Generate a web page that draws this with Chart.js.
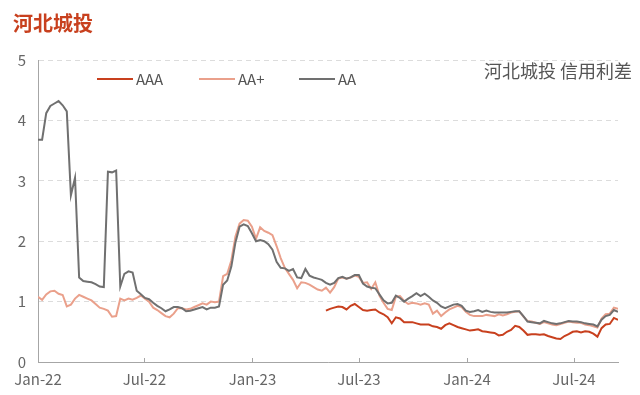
<!DOCTYPE html>
<html>
<head>
<meta charset="utf-8">
<script src="https://cdn.jsdelivr.net/npm/chart.js@4.4.1/dist/chart.umd.min.js"></script>
<style>
  html, body { margin: 0; padding: 0; background: #fff; }
  #wrap { width: 640px; height: 395px; }
</style>
</head>
<body>
<div id="wrap"><canvas id="myChart" width="640" height="395"></canvas></div>
<script>
// weekly observations, starting first week of Jan 2022
var weekCount = 142;
var tickDays = [0, 181, 365, 546, 730, 912];
var tickLabels = ["Jan-22", "Jul-22", "Jan-23", "Jul-23", "Jan-24", "Jul-24"];
var seriesNames = ["AAA", "AA+", "AA"];
var seriesColors = ["#c8401e", "#eaa08b", "#707070"];

var aaaValues = Array(70).fill(null).concat([
  0.85,0.88,0.90,0.92,0.91,0.87,0.93,0.96,0.91,0.86,
  0.85,0.86,0.87,0.82,0.79,0.74,0.64,0.74,0.72,0.66,
  0.66,0.66,0.64,0.62,0.62,0.62,0.59,0.58,0.55,0.61,
  0.64,0.61,0.58,0.56,0.54,0.52,0.53,0.54,0.51,0.50,
  0.49,0.48,0.44,0.45,0.50,0.53,0.60,0.58,0.52,0.45,
  0.46,0.46,0.45,0.46,0.43,0.41,0.39,0.38,0.43,0.46,
  0.50,0.51,0.49,0.51,0.50,0.47,0.42,0.56,0.62,0.63,0.73,0.70
]);

var aaPlusValues = [
  1.08,1.03,1.12,1.17,1.18,1.13,1.11,0.92,0.95,1.05,
  1.11,1.08,1.05,1.02,0.96,0.90,0.88,0.85,0.75,0.76,
  1.05,1.02,1.05,1.03,1.06,1.10,1.05,1.00,0.90,0.86,
  0.81,0.76,0.74,0.80,0.89,0.89,0.87,0.88,0.91,0.94,
  0.97,0.95,1.00,0.99,1.00,1.42,1.46,1.68,2.08,2.29,
  2.35,2.34,2.24,2.04,2.23,2.17,2.14,2.10,1.92,1.72,
  1.56,1.46,1.36,1.22,1.32,1.31,1.28,1.24,1.20,1.18,
  1.23,1.15,1.24,1.38,1.40,1.38,1.40,1.43,1.41,1.31,
  1.32,1.21,1.32,1.10,0.98,0.88,0.86,1.08,1.09,1.01,
  0.96,0.98,0.97,0.95,0.97,0.95,0.80,0.85,0.76,0.82,
  0.87,0.90,0.93,0.91,0.83,0.78,0.76,0.76,0.76,0.78,
  0.77,0.76,0.79,0.77,0.79,0.82,0.83,0.84,0.75,0.68,
  0.67,0.65,0.63,0.66,0.64,0.62,0.61,0.63,0.65,0.67,
  0.66,0.65,0.65,0.62,0.61,0.59,0.57,0.72,0.79,0.80,
  0.90,0.88
];

var aaValues = [
  3.68,3.68,4.12,4.24,4.28,4.32,4.25,4.15,2.76,3.05,
  1.40,1.34,1.33,1.32,1.29,1.25,1.24,3.15,3.14,3.17,
  1.25,1.46,1.50,1.48,1.18,1.12,1.06,1.04,0.98,0.93,
  0.89,0.84,0.87,0.91,0.91,0.89,0.84,0.85,0.87,0.89,
  0.91,0.87,0.90,0.90,0.92,1.28,1.35,1.58,1.98,2.24,
  2.28,2.25,2.13,2.00,2.02,2.00,1.95,1.86,1.66,1.56,
  1.55,1.51,1.54,1.40,1.39,1.54,1.43,1.40,1.38,1.36,
  1.31,1.28,1.31,1.39,1.41,1.38,1.40,1.44,1.44,1.30,
  1.25,1.23,1.22,1.12,1.02,0.97,0.98,1.10,1.06,1.00,
  1.05,1.09,1.14,1.09,1.13,1.08,1.02,0.98,0.92,0.89,
  0.92,0.95,0.96,0.93,0.85,0.83,0.84,0.86,0.83,0.85,
  0.83,0.82,0.82,0.82,0.82,0.83,0.84,0.84,0.76,0.67,
  0.66,0.65,0.64,0.68,0.66,0.64,0.63,0.64,0.66,0.68,
  0.67,0.67,0.66,0.64,0.63,0.62,0.59,0.70,0.76,0.78,
  0.86,0.83
];

var days = [];
for (let i = 0; i < weekCount; i++) days.push(i * 7);

const toPoints = (vals) => vals.map((v, i) => ({ x: days[i], y: v }));

const FONT = "'Noto Sans CJK SC', 'Noto Sans', sans-serif";

// title, legend, subtitle and the small inward x ticks
const decor = {
  id: "decor",
  afterDraw(chart) {
    const ctx = chart.ctx;
    ctx.save();
    ctx.textBaseline = "middle";

    ctx.fillStyle = "#c8401e";
    ctx.font = "bold 20px " + FONT;
    ctx.textAlign = "left";
    ctx.fillText("河北城投", 13, 23);

    ctx.fillStyle = "#555";
    ctx.font = "18px " + FONT;
    ctx.textAlign = "right";
    ctx.fillText("河北城投 信用利差", 632, 71);

    const legendX = [97, 199, 299];
    ctx.font = "15px " + FONT;
    ctx.textAlign = "left";
    chart.data.datasets.forEach((ds, i) => {
      const x = legendX[i];
      ctx.strokeStyle = ds.borderColor;
      ctx.lineWidth = 2;
      ctx.beginPath();
      ctx.moveTo(x, 79);
      ctx.lineTo(x + 36, 79);
      ctx.stroke();
      ctx.fillStyle = "#555";
      ctx.fillText(ds.label, x + 39, 79);
    });

    const xs = chart.scales.x;
    const bottom = chart.chartArea.bottom;
    ctx.strokeStyle = "#a6a6a6";
    ctx.lineWidth = 1;
    tickDays.forEach((d, i) => {
      if (i === 0) return;
      const px = Math.round(xs.getPixelForValue(d)) + 0.5;
      ctx.beginPath();
      ctx.moveTo(px, bottom);
      ctx.lineTo(px, bottom - 4);
      ctx.stroke();
    });
    ctx.restore();
  }
};

new Chart("myChart", {
  type: "line",
  data: {
    datasets: [
      { label: seriesNames[0], data: toPoints(aaaValues), borderColor: seriesColors[0], borderWidth: 2, order: 0 },
      { label: seriesNames[1], data: toPoints(aaPlusValues), borderColor: seriesColors[1], borderWidth: 2, order: 2 },
      { label: seriesNames[2], data: toPoints(aaValues), borderColor: seriesColors[2], borderWidth: 2, order: 1 }
    ]
  },
  options: {
    responsive: false,
    animation: false,
    elements: { point: { radius: 0 }, line: { tension: 0 } },
    layout: { padding: { top: 60, right: 22, left: 0, bottom: 0 } },
    plugins: { legend: { display: false }, tooltip: { enabled: false } },
    scales: {
      x: {
        type: "linear",
        min: 0,
        max: days[days.length - 1],
        afterBuildTicks: (s) => { s.ticks = tickDays.map(v => ({ value: v })); },
        afterFit: (s) => { s.height = 33; },
        ticks: {
          autoSkip: false,
          maxRotation: 0,
          padding: 8,
          color: "#666",
          font: { family: FONT, size: 15 },
          callback: (v) => tickLabels[tickDays.indexOf(v)]
        },
        grid: { display: true, drawOnChartArea: false, drawTicks: false },
        border: { display: true, color: "#a6a6a6", width: 1 }
      },
      y: {
        min: 0,
        max: 5,
        afterFit: (s) => { s.width = 38; },
        ticks: {
          stepSize: 1,
          padding: 12,
          color: "#666",
          font: { family: FONT, size: 15 }
        },
        grid: { color: "#dcdcdc", drawTicks: false },
        border: { display: true, color: "#a6a6a6", width: 1, dash: [5, 4] }
      }
    }
  },
  plugins: [decor]
});
</script>
</body>
</html>
